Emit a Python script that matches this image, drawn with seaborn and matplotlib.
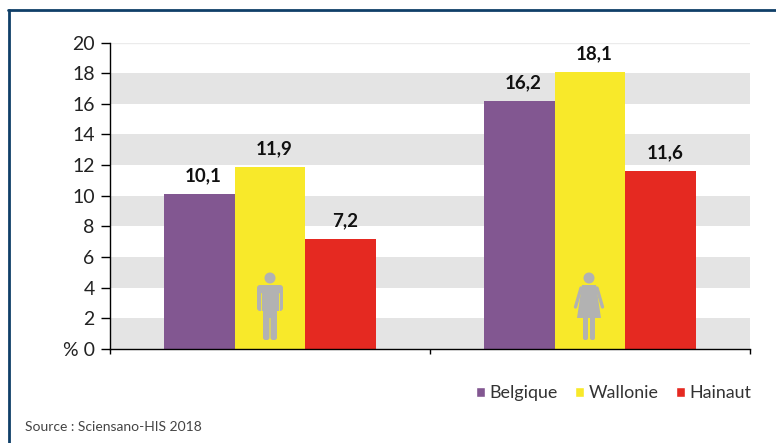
import pandas as pd
import seaborn as sns
import matplotlib.pyplot as plt
from matplotlib.lines import Line2D
from matplotlib.patches import Circle, FancyBboxPatch, Polygon, Patch
from matplotlib.transforms import Affine2D

WIDTH, HEIGHT = 776, 443

groups = ["Hommes", "Femmes"]
regions = ["Belgique", "Wallonie", "Hainaut"]
belgique = [10.1, 16.2]
wallonie = [11.9, 18.1]
hainaut = [7.2, 11.6]
colors = ["#825791", "#F8E92A", "#E52921"]
y_ticks = [0, 2, 4, 6, 8, 10, 12, 14, 16, 18, 20]
y_labels = ["% 0", "2", "4", "6", "8", "10", "12", "14", "16", "18", "20"]
source = "Source : Sciensano-HIS 2018"

ICON = "#B2B2B2"
TEXT = "#222222"

df = pd.DataFrame({
    "group": groups * 3,
    "region": [r for r in regions for _ in groups],
    "value": belgique + wallonie + hainaut,
})

sns.set_theme(style="white")
plt.rcParams["font.family"] = ["Lato", "DejaVu Sans"]

fig = plt.figure(figsize=(WIDTH / 100, HEIGHT / 100), dpi=100, facecolor="white")
ax = fig.add_axes([110 / WIDTH, 1 - 349 / HEIGHT, 640 / WIDTH, 306.5 / HEIGHT])

# image pixels, y going down, for the frame and the icons
px = Affine2D().scale(1 / WIDTH, -1 / HEIGHT).translate(0, 1) + fig.transFigure

sns.barplot(data=df, x="group", y="value", hue="region", order=groups,
            hue_order=regions, palette=colors, width=0.665, gap=0,
            saturation=1, legend=False, linewidth=0, ax=ax)

# alternating bands behind the bars
for low, high in zip(y_ticks[:-1], y_ticks[1:]):
    if y_ticks.index(low) % 2 == 0:
        ax.axhspan(low, high, color="#E4E4E4", lw=0, zorder=0)
ax.axhline(y_ticks[-1], color="#EBEBEB", lw=1, zorder=0)

ax.set_xlim(-0.5, 1.5)
ax.set_ylim(y_ticks[0], y_ticks[-1])
ax.set_xlabel("")
ax.set_ylabel("")
ax.set_xticks([-0.5, 0.5, 1.5])
ax.set_xticklabels([])
ax.set_yticks(y_ticks)
ax.set_yticklabels(y_labels, fontsize=14, color=TEXT)
ax.tick_params(axis="y", direction="out", length=6.5, width=1, color="black",
               left=True, pad=4.5)
ax.tick_params(axis="x", direction="out", length=3.6, width=1, color="black",
               bottom=True)

sns.despine(ax=ax)
for side in ["left", "bottom"]:
    ax.spines[side].set_color("black")
    ax.spines[side].set_linewidth(1)

for container, values in zip(ax.containers, [belgique, wallonie, hainaut]):
    labels = [f"{v:.1f}".replace(".", ",") for v in values]
    texts = ax.bar_label(container, labels=labels, padding=7, fontsize=13.5,
                         fontweight="bold", color="#111111")
    for t in texts:
        t.xyann = (3, 7)

handles = [Patch(facecolor=c, label=r) for c, r in zip(colors, regions)]
fig.legend(handles=handles, loc="center right",
           bbox_to_anchor=(751 / WIDTH, 1 - 393 / HEIGHT), ncol=3, frameon=False,
           fontsize=12.9, handlelength=0.5, handleheight=0.5, handletextpad=0.25,
           columnspacing=0.95, borderpad=0, borderaxespad=0, labelcolor="#333333")

fig.text(25 / WIDTH, 1 - 427 / HEIGHT, source, fontsize=10, color="#444444",
         va="center", ha="left")

# frame: only top and left sides
fig.add_artist(Line2D([8.5, 8.5], [443, 10.5], transform=px, color="#0F3F68", lw=2))
fig.add_artist(Line2D([7.5, 776], [10.5, 10.5], transform=px, color="#0F3F68", lw=2))


def rounded(x, y, w, h, r=2.0):
    return FancyBboxPatch((x + r, y + r), w - 2 * r, h - 2 * r,
                          boxstyle=f"round,pad={r}", transform=px,
                          fc=ICON, ec="none", mutation_aspect=1)


# man icon
cx = 270
man = [Circle((cx, 278), 5.5, transform=px, fc=ICON, ec="none"),
       rounded(cx - 13, 285, 26, 26, 3),
       rounded(cx - 7, 290, 14, 28, 1),
       rounded(cx - 7, 300, 6.5, 40, 2.5),
       rounded(cx + 0.5, 300, 6.5, 40, 2.5)]
for part in man:
    fig.add_artist(part)
for dx in (-8.7, 8.7):
    fig.add_artist(Line2D([cx + dx, cx + dx], [293, 311], transform=px,
                          color="#F8E92A", lw=0.6))

# woman icon
cx = 589
woman = [Circle((cx, 278), 5.5, transform=px, fc=ICON, ec="none"),
         Polygon([(cx - 7, 285), (cx + 7, 285), (cx + 12, 318), (cx - 12, 318)],
                 closed=True, transform=px, fc=ICON, ec="none"),
         rounded(cx - 6, 316, 5, 24, 2),
         rounded(cx + 1, 316, 5, 24, 2)]
for part in woman:
    fig.add_artist(part)
for sign in (-1, 1):
    fig.add_artist(Line2D([cx + sign * 8, cx + sign * 13.5], [288, 307], transform=px,
                          color=ICON, lw=2.4, solid_capstyle="round"))

plt.savefig("out.png", dpi=100, facecolor="white")
plt.close()
